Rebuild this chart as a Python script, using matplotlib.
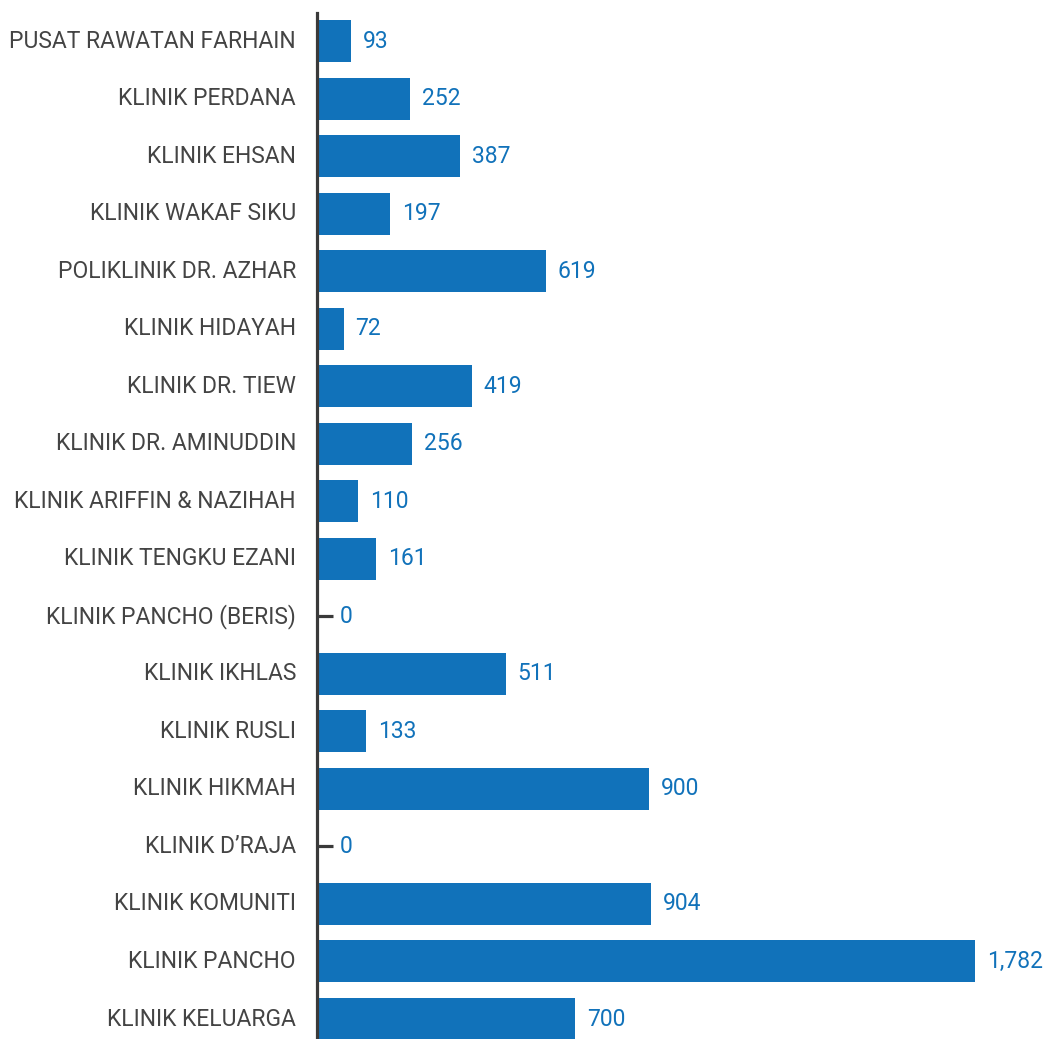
import matplotlib
matplotlib.use("Agg")
import matplotlib.pyplot as plt
import numpy as np

clinics = [
    "PUSAT RAWATAN FARHAIN", "KLINIK PERDANA", "KLINIK EHSAN", "KLINIK WAKAF SIKU",
    "POLIKLINIK DR. AZHAR", "KLINIK HIDAYAH", "KLINIK DR. TIEW", "KLINIK DR. AMINUDDIN",
    "KLINIK ARIFFIN & NAZIHAH", "KLINIK TENGKU EZANI", "KLINIK PANCHO (BERIS)",
    "KLINIK IKHLAS", "KLINIK RUSLI", "KLINIK HIKMAH", "KLINIK D\u2019RAJA",
    "KLINIK KOMUNITI", "KLINIK PANCHO", "KLINIK KELUARGA",
]
values = [93, 252, 387, 197, 619, 72, 419, 256, 110, 161, 0, 511, 133, 900, 0, 904, 1782, 700]

plt.rcParams['font.family'] = ['Roboto', 'DejaVu Sans']

W, H = 1045, 1039
fig = plt.figure(figsize=(W / 100, H / 100), dpi=100)
x0 = 317
ax = fig.add_axes([x0 / W, 0, 1 - x0 / W, 1])

px_per_unit = (975 - x0) / 1782
step = (1019 - 41) / 17
y_top = -41 / step
y_bot = (H - 41) / step

ypos = np.arange(len(clinics))
blue = "#1172BA"
ax.barh(ypos, values, height=0.73, color=blue)
ax.set_ylim(y_bot, y_top)
ax.set_xlim(0, (W - x0) / px_per_unit)

for sp in ax.spines.values():
    sp.set_visible(False)
ax.set_xticks([])
ax.set_yticks([])

top_frac = (H - 13) / H
ax.axvline(0, ymin=0, ymax=top_frac, color="#3a3a3a", lw=2.3, clip_on=False)

zero_len = 16 / px_per_unit
for y, v in zip(ypos, values):
    if v == 0:
        ax.plot([0, zero_len], [y, y], color="#3a3a3a", lw=2.3, solid_capstyle="butt")
        lx = zero_len + 7 / px_per_unit
    else:
        lx = v + 12 / px_per_unit
    ax.text(lx, y, f"{v:,}", color=blue, fontsize=16.5, va="center", ha="left")

for y, name in zip(ypos, clinics):
    ax.text(-21 / px_per_unit, y, name, color="#444444", fontsize=16.5,
            va="center", ha="right", clip_on=False)

fig.savefig("out.png", dpi=100)
